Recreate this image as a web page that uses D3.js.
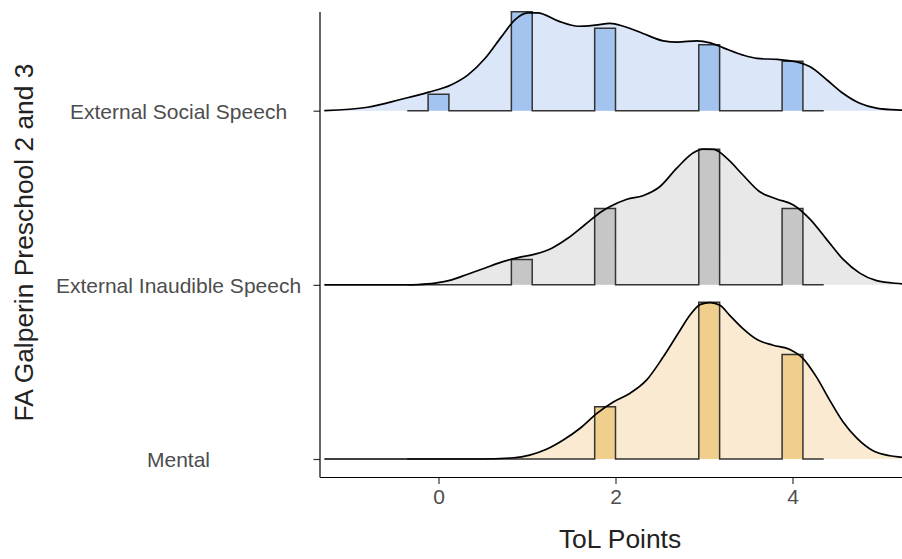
<!DOCTYPE html>
<html>
<head>
<meta charset="utf-8">
<script src="https://cdn.jsdelivr.net/npm/d3@7"></script>
<style>
  html, body { margin: 0; padding: 0; background: #ffffff; }
  svg { display: block; font-family: "Liberation Sans", Arial, Helvetica, sans-serif; }
</style>
</head>
<body>
<svg id="chart" width="902" height="559"></svg>
<script>
// ---------- data ----------
const groups = ["Mental", "External Inaudible Speech", "External Social Speech"]; // bottom -> top
const tolScores = [0, 1, 2, 3, 4];
const xTicks = [0, 2, 4];

// histogram counts per ToL score
const countsSocial    = [1, 6, 5, 4, 3];
const countsInaudible = [0, 3, 9, 16, 9];
const countsMental    = [0, 0, 1, 3, 2];

// density ridgelines: x (ToL points) and relative height (1 = tallest ridge)
const densXSocial = [-1.29, -0.80, -0.42, -0.12, 0.14, 0.33, 0.53, 0.71, 0.86, 1.01, 1.12, 1.35, 1.58, 1.77, 1.94, 2.09, 2.31, 2.54, 2.70, 2.92, 3.07, 3.22, 3.44, 3.60, 3.83, 4.05, 4.20, 4.39, 4.57, 4.76, 4.96, 5.24, 5.34];
const densYSocial = [0, 0.022, 0.073, 0.117, 0.164, 0.227, 0.336, 0.471, 0.578, 0.624, 0.624, 0.573, 0.539, 0.546, 0.557, 0.539, 0.493, 0.446, 0.438, 0.446, 0.433, 0.401, 0.355, 0.334, 0.327, 0.312, 0.280, 0.196, 0.111, 0.047, 0.015, 0.003, 0];

const densXInaudible = [-1.29, -0.35, -0.23, -0.04, 0.15, 0.33, 0.52, 0.71, 0.90, 1.09, 1.28, 1.46, 1.65, 1.84, 1.94, 2.13, 2.31, 2.50, 2.69, 2.88, 2.99, 3.11, 3.26, 3.44, 3.63, 3.82, 4.01, 4.20, 4.39, 4.57, 4.76, 4.95, 5.24, 5.34];
const densYInaudible = [0, 0, 0.002, 0.011, 0.032, 0.068, 0.106, 0.145, 0.174, 0.196, 0.234, 0.297, 0.382, 0.467, 0.500, 0.546, 0.569, 0.626, 0.743, 0.843, 0.866, 0.864, 0.807, 0.701, 0.594, 0.548, 0.510, 0.418, 0.287, 0.164, 0.075, 0.027, 0.006, 0];

const densXMental = [-1.29, 0.47, 0.85, 1.03, 1.22, 1.41, 1.60, 1.79, 1.98, 2.16, 2.35, 2.54, 2.73, 2.84, 2.96, 3.07, 3.18, 3.29, 3.44, 3.60, 3.78, 3.97, 4.12, 4.27, 4.42, 4.57, 4.73, 4.91, 5.10, 5.24, 5.40];
const densYMental = [0, 0, 0.008, 0.025, 0.062, 0.121, 0.196, 0.291, 0.365, 0.418, 0.503, 0.652, 0.822, 0.917, 0.987, 0.998, 0.981, 0.917, 0.832, 0.762, 0.726, 0.699, 0.641, 0.524, 0.376, 0.238, 0.132, 0.053, 0.021, 0.011, 0];

const fillLight = ["#f9ead1", "#e8e8e8", "#dbe6f8"];
const fillBar   = ["#f0ce8c", "#c6c6c6", "#a4c4f0"];

// ---------- layout ----------
const svg = d3.select("#chart");
const panel = { left: 320, right: 902, top: 12, bottom: 477.5 };

const x = d3.scaleLinear().domain([-1.339, 5.3]).range([panel.left, panel.left + 88.5 * 6.639]);
const y = d3.scalePoint().domain(groups).range([459, 110.7]);
const hScale = d3.scaleLinear().domain([0, 1]).range([0, 156.7]);

const series = [
  { name: groups[0], counts: countsMental,    dx: densXMental,    dy: densYMental },
  { name: groups[1], counts: countsInaudible, dx: densXInaudible, dy: densYInaudible },
  { name: groups[2], counts: countsSocial,    dx: densXSocial,    dy: densYSocial }
];

// histogram bins (18 bins over 0..4 centred on 0 and 4, padded by one empty bin each side)
const binW = 4 / 17;
const edges = d3.range(-1, 20).map(j => -binW / 2 + j * binW); // 21 edges -> 20 bins
let maxHist = 0;
series.forEach(s => {
  const n = d3.sum(s.counts);
  const h = new Array(20).fill(0);
  tolScores.forEach((v, i) => {
    const j = Math.ceil((v + binW / 2) / binW - 1e-9) - 1; // right-closed bins
    h[j + 1] += s.counts[i] / n / binW;
  });
  s.hist = h;
  maxHist = Math.max(maxHist, d3.max(h));
});

svg.append("defs").append("clipPath").attr("id", "panelClip")
  .append("rect").attr("x", panel.left).attr("y", 0)
  .attr("width", panel.right - panel.left).attr("height", panel.bottom);

const g = svg.append("g").attr("clip-path", "url(#panelClip)");

series.slice().reverse().forEach((s, k) => {
  const gi = groups.indexOf(s.name);
  const base = y(s.name);
  const pts = s.dx.map((d, i) => [d, s.dy[i]]);

  // density fill
  g.append("path")
    .datum(pts)
    .attr("fill", fillLight[gi])
    .attr("stroke", "none")
    .attr("d", d3.area()
      .x(d => x(d[0]))
      .y0(base)
      .y1(d => base - hScale(d[1]))
      .curve(d3.curveMonotoneX));

  // histogram
  const hp = edges.map((e, j) => [e, j < 20 ? s.hist[j] / maxHist : 0]);
  g.append("path")
    .datum(hp)
    .attr("fill", fillBar[gi])
    .attr("stroke", "none")
    .attr("d", d3.area()
      .x(d => x(d[0]))
      .y0(base)
      .y1(d => base - hScale(d[1]))
      .curve(d3.curveStepAfter));
  g.append("path")
    .datum(hp)
    .attr("fill", "none")
    .attr("stroke", "#333333")
    .attr("stroke-width", 1.5)
    .attr("d", d3.line()
      .x(d => x(d[0]))
      .y(d => base - hScale(d[1]))
      .curve(d3.curveStepAfter));

  // density outline
  g.append("path")
    .datum(pts)
    .attr("fill", "none")
    .attr("stroke", "#000")
    .attr("stroke-width", 1.7)
    .attr("d", d3.line()
      .x(d => x(d[0]))
      .y(d => base - hScale(d[1]))
      .curve(d3.curveMonotoneX));
});

// ---------- axes ----------
const axisColor = "#333333";
const textColor = "#4d4d4d";

// x axis
const xAxis = svg.append("g")
  .attr("transform", `translate(0,${panel.bottom})`)
  .call(d3.axisBottom(x).tickValues(xTicks).tickFormat(d3.format("d")).tickSize(6.5).tickPadding(5));
xAxis.select(".domain").remove();
xAxis.selectAll(".tick line").attr("stroke", axisColor).attr("stroke-width", 1.2);
xAxis.selectAll(".tick text").attr("fill", textColor).attr("font-size", 21)
  .attr("font-family", "Liberation Sans, Arial, sans-serif");
svg.append("line")
  .attr("x1", panel.left).attr("x2", panel.right)
  .attr("y1", panel.bottom).attr("y2", panel.bottom)
  .attr("stroke", "#000").attr("stroke-width", 1.2);

// y axis
const yAxis = svg.append("g")
  .attr("transform", `translate(${panel.left},0)`)
  .call(d3.axisLeft(y).tickSize(6.5).tickPadding(0));
yAxis.select(".domain").remove();
yAxis.selectAll(".tick line").attr("stroke", axisColor).attr("stroke-width", 1.2);
yAxis.selectAll(".tick text")
  .attr("fill", textColor).attr("font-size", 21)
  .attr("font-family", "Liberation Sans, Arial, sans-serif")
  .attr("text-anchor", "middle")
  .attr("x", 178.5 - panel.left)
  .attr("dy", "0.36em");
svg.append("line")
  .attr("x1", panel.left).attr("x2", panel.left)
  .attr("y1", panel.top).attr("y2", panel.bottom)
  .attr("stroke", "#000").attr("stroke-width", 1.2);

// titles
svg.append("text")
  .attr("x", 620).attr("y", 548)
  .attr("text-anchor", "middle")
  .attr("font-size", 26.4)
  .attr("fill", "#222")
  .text("ToL Points");

svg.append("text")
  .attr("transform", "translate(33,242.5) rotate(-90)")
  .attr("text-anchor", "middle")
  .attr("font-size", 26.4)
  .attr("fill", "#222")
  .text("FA Galperin Preschool 2 and 3");
</script>
</body>
</html>
